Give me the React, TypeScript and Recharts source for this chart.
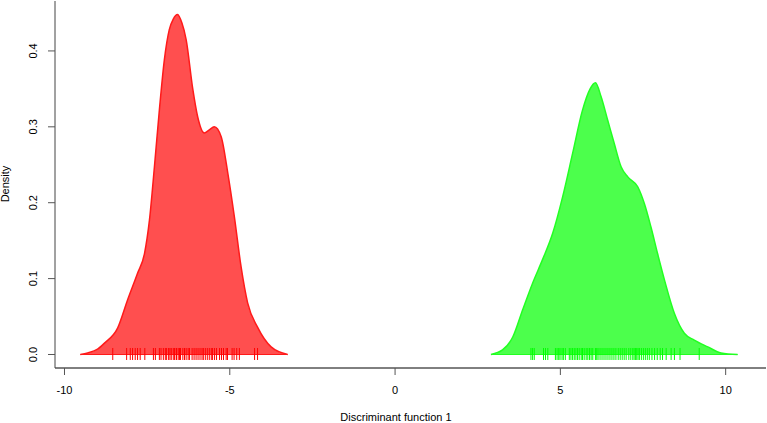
import React from "react";
import {
  ComposedChart,
  Area,
  Line,
  Scatter,
  XAxis,
  YAxis,
  Label,
} from "recharts";

// density estimates
const redX = [
  -9.52, -9.3, -9.0, -8.79, -8.39, -8.09, -7.79, -7.58, -7.43, -7.28, -7.13,
  -6.98, -6.83, -6.71, -6.58, -6.45, -6.32, -6.12, -5.97, -5.77, -5.62, -5.47,
  -5.26, -5.06, -4.86, -4.66, -4.46, -4.16, -3.75, -3.25,
];
const redDensity = [
  0, 0.002, 0.007, 0.015, 0.035, 0.072, 0.107, 0.133, 0.177, 0.247, 0.322,
  0.388, 0.428, 0.442, 0.448, 0.437, 0.415, 0.35, 0.313, 0.292, 0.296, 0.3,
  0.287, 0.239, 0.181, 0.116, 0.068, 0.036, 0.01, 0,
];

const greenX = [
  2.9, 3.25, 3.56, 3.86, 4.16, 4.46, 4.77, 5.07, 5.37, 5.67, 5.9, 6.06, 6.23,
  6.43, 6.63, 6.84, 7.04, 7.34, 7.54, 7.74, 7.94, 8.15, 8.45, 8.75, 9.05, 9.46,
  9.86, 10.36,
];
const greenDensity = [
  0, 0.006, 0.023, 0.059, 0.094, 0.125, 0.16, 0.208, 0.265, 0.322, 0.35, 0.358,
  0.34, 0.309, 0.278, 0.247, 0.234, 0.221, 0.199, 0.168, 0.133, 0.098, 0.054,
  0.028, 0.019, 0.01, 0.002, 0,
];

// rug (individual scores)
const redRug = [
  -8.54, -8.12, -8.01, -7.94, -7.86, -7.79, -7.71, -7.57, -7.31, -7.25, -7.13,
  -7.08, -7.01, -6.95, -6.91, -6.85, -6.81, -6.77, -6.71, -6.67, -6.62, -6.61,
  -6.56, -6.52, -6.49, -6.42, -6.37, -6.32, -6.26, -6.22, -6.14, -6.08, -6.02,
  -5.96, -5.9, -5.84, -5.8, -5.74, -5.68, -5.62, -5.56, -5.52, -5.46, -5.4,
  -5.31, -5.25, -5.19, -5.11, -5.07, -4.93, -4.87, -4.79, -4.71, -4.25, -4.16,
];
const greenRug = [
  4.11, 4.16, 4.21, 4.49, 4.55, 4.62, 4.85, 4.9, 4.95, 4.99, 5.05, 5.09, 5.15,
  5.27, 5.32, 5.37, 5.42, 5.47, 5.52, 5.57, 5.63, 5.67, 5.72, 5.78, 5.83, 5.88,
  5.93, 5.98, 6.06, 6.1, 6.14, 6.2, 6.26, 6.32, 6.38, 6.44, 6.5, 6.56, 6.62,
  6.68, 6.75, 6.81, 6.87, 6.93, 6.99, 7.07, 7.13, 7.19, 7.23, 7.27, 7.31, 7.35,
  7.39, 7.45, 7.51, 7.57, 7.63, 7.69, 7.77, 7.85, 7.93, 8.02, 8.09, 8.2, 8.35,
  8.45, 8.62, 9.2,
];

const xTicks = [-10, -5, 0, 5, 10];
const yTicks = [0, 0.1, 0.2, 0.3, 0.4];

const FONT = "'Liberation Sans', Arial, sans-serif";

const curveData = [
  ...redX.map((x, i) => ({ x, red: redDensity[i], redBase: 0, green: null, greenBase: null })),
  ...greenX.map((x, i) => ({ x, red: null, redBase: null, green: greenDensity[i], greenBase: 0 })),
];

const redRugData = redRug.map((x) => ({ x, y: 0 }));
const greenRugData = greenRug.map((x) => ({ x, y: 0 }));

const rugShape = (color: string) => (props: any) => {
  const { cx, cy } = props;
  return <line x1={cx} x2={cx} y1={cy - 6.5} y2={cy + 5.5} stroke={color} strokeWidth={1} />;
};

const XTick = (props: any) => {
  const { x, payload } = props;
  return (
    <text x={x} y={394} textAnchor="middle" fontSize={11} fontFamily={FONT} fill="#000">
      {payload.value}
    </text>
  );
};

const YTick = (props: any) => {
  const { y, payload } = props;
  return (
    <text
      x={33}
      y={y}
      transform={`rotate(-90 33 ${y})`}
      textAnchor="middle"
      dominantBaseline="central"
      fontSize={11}
      fontFamily={FONT}
      fill="#000"
    >
      {Number(payload.value).toFixed(1)}
    </text>
  );
};

export default function App() {
  return (
    <div style={{ position: "absolute", left: 0, top: 0, background: "#fff" }}>
      <ComposedChart
        width={767}
        height={423}
        data={curveData}
        margin={{ top: 1, right: 1, bottom: 0, left: 0 }}
      >
        <XAxis
          dataKey="x"
          type="number"
          domain={[-10.287, 11.22]}
          ticks={xTicks}
          tick={<XTick />}
          tickSize={7}
          height={55}
          axisLine={{ stroke: "#000" }}
          tickLine={{ stroke: "#555" }}
          allowDataOverflow
        >
          <Label
            content={() => (
              <text x={396} y={421} textAnchor="middle" fontSize={11} fontFamily={FONT} fill="#000">
                Discriminant function 1
              </text>
            )}
          />
        </XAxis>
        <XAxis
          xAxisId="top"
          orientation="top"
          type="number"
          domain={[-10.287, 11.22]}
          height={0}
          tick={false}
          tickLine={false}
          axisLine={{ stroke: "#999" }}
        />
        <YAxis
          dataKey="y"
          type="number"
          domain={[-0.0178, 0.4658]}
          ticks={yTicks}
          tick={<YTick />}
          tickSize={7}
          width={55}
          axisLine={{ stroke: "#444" }}
          tickLine={{ stroke: "#555" }}
          allowDataOverflow
        >
          <Label
            content={() => (
              <text
                x={9}
                y={184}
                transform="rotate(-90 9 184)"
                textAnchor="middle"
                fontSize={11}
                fontFamily={FONT}
                fill="#000"
              >
                Density
              </text>
            )}
          />
        </YAxis>
        <YAxis
          yAxisId="right"
          orientation="right"
          width={0}
          tick={false}
          tickLine={false}
          axisLine={{ stroke: "#999" }}
        />

        <Area
          dataKey="red"
          type="monotone"
          baseValue={0}
          fill="#ff0000"
          fillOpacity={0.69}
          stroke="#ff1a1a"
          strokeWidth={1.5}
          isAnimationActive={false}
          dot={false}
          activeDot={false}
        />
        <Line dataKey="redBase" stroke="#ff1a1a" strokeWidth={1.2} dot={false} isAnimationActive={false} />
        <Area
          dataKey="green"
          type="monotone"
          baseValue={0}
          fill="#00ff00"
          fillOpacity={0.7}
          stroke="#22ff22"
          strokeWidth={1.5}
          isAnimationActive={false}
          dot={false}
          activeDot={false}
        />
        <Line dataKey="greenBase" stroke="#22ff22" strokeWidth={1.2} dot={false} isAnimationActive={false} />

        <Scatter data={redRugData} dataKey="y" shape={rugShape("#ff0000")} isAnimationActive={false} />
        <Scatter data={greenRugData} dataKey="y" shape={rugShape("#00ff00")} isAnimationActive={false} />
      </ComposedChart>
    </div>
  );
}
